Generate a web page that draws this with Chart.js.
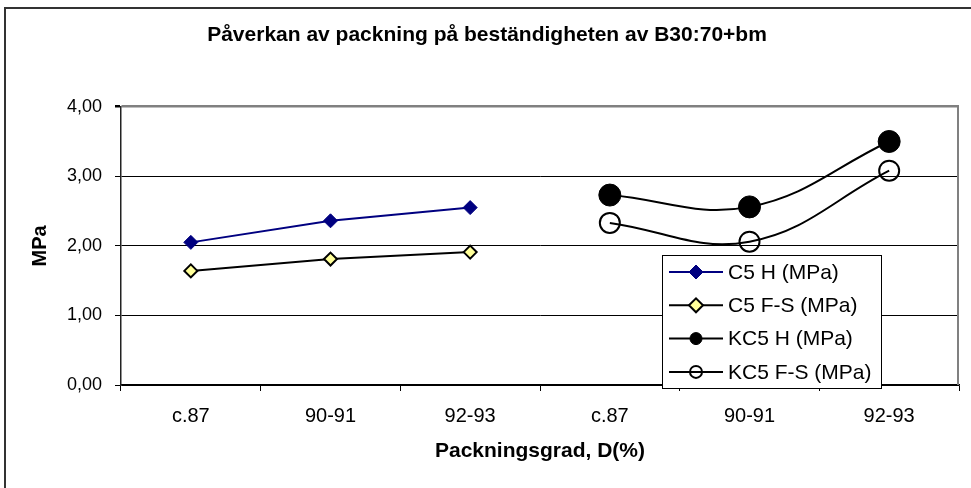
<!DOCTYPE html>
<html>
<head>
<meta charset="utf-8">
<script src="https://cdn.jsdelivr.net/npm/chart.js@4.4.1/dist/chart.umd.min.js"></script>
<style>
  html, body { margin: 0; padding: 0; background: #fff; }
  #wrap { width: 971px; height: 488px; position: relative; }
</style>
</head>
<body>
<div id="wrap"><canvas id="chart" width="971" height="488"></canvas></div>
<script>
// ─── Data ─────────────────────────────────────────────────────────
const categories = ['c.87', '90-91', '92-93', 'c.87', '90-91', '92-93'];
const c5H   = [2.05, 2.36, 2.55, null, null, null];
const c5FS  = [1.64, 1.81, 1.91, null, null, null];
const kc5H  = [null, null, null, 2.73, 2.56, 3.50];
const kc5FS = [null, null, null, 2.33, 2.06, 3.08];
const seriesNames = ['C5 H (MPa)', 'C5 F-S (MPa)', 'KC5 H (MPa)', 'KC5 F-S (MPa)'];
const yTicks = [0, 1, 2, 3, 4];

const FONT = "'Liberation Sans', Arial, sans-serif";
Chart.defaults.font.family = FONT;
Chart.defaults.color = '#000';

const fmt = v => v.toFixed(2).replace('.', ',');

// outer frame + right plot border
const framePlugin = {
  id: 'frame',
  beforeDraw(chart) {
    const c = chart.ctx;
    c.save();
    c.fillStyle = '#fff';
    c.fillRect(0, 0, chart.width, chart.height);
    c.strokeStyle = '#333';
    c.lineWidth = 2;
    c.strokeRect(5, 8, 1100, 1100);
    c.restore();
  },
  beforeDatasetsDraw(chart) {
    const a = chart.chartArea, c = chart.ctx;
    c.save();
    c.strokeStyle = '#808080';
    c.lineWidth = 2;
    c.beginPath();
    c.moveTo(a.right - 1, a.top);
    c.lineTo(a.right - 1, a.bottom);
    c.stroke();
    c.restore();
  }
};

// boxed legend inside the plot, Excel style
const legendBox = {
  id: 'legendBox',
  afterDraw(chart) {
    const c = chart.ctx;
    const x0 = 662, y0 = 255, w = 219, h = 133;
    c.save();
    c.fillStyle = '#fff';
    c.fillRect(x0, y0, w, h);
    c.strokeStyle = '#000';
    c.lineWidth = 1;
    c.strokeRect(x0 + 0.5, y0 + 0.5, w, h);
    chart.data.datasets.forEach((ds, i) => {
      const y = y0 + 17 + i * 33.3;
      c.strokeStyle = ds.borderColor;
      c.lineWidth = 2;
      c.beginPath();
      c.moveTo(x0 + 7, y);
      c.lineTo(x0 + 61, y);
      c.stroke();
      c.fillStyle = ds.pointBackgroundColor;
      c.strokeStyle = ds.pointBorderColor;
      c.lineWidth = ds.pointBorderWidth;
      Chart.helpers.drawPoint(c, {
        pointStyle: ds.pointStyle,
        radius: ds.pointStyle === 'circle' ? 6 : 7,
        borderWidth: ds.pointBorderWidth
      }, x0 + 34, y);
      c.fillStyle = '#000';
      c.font = '21px ' + FONT;
      c.textBaseline = 'middle';
      c.textAlign = 'left';
      c.fillText(ds.label, x0 + 66, y + 1);
    });
    c.restore();
  }
};

new Chart(document.getElementById('chart'), {
  type: 'line',
  data: {
    labels: categories,
    datasets: [
      {
        label: seriesNames[0], data: c5H,
        borderColor: '#000080', borderWidth: 2,
        pointStyle: 'rectRot', pointRadius: 7,
        pointBackgroundColor: '#000080', pointBorderColor: '#000080', pointBorderWidth: 1,
        tension: 0
      },
      {
        label: seriesNames[1], data: c5FS,
        borderColor: '#000', borderWidth: 2,
        pointStyle: 'rectRot', pointRadius: 6.5,
        pointBackgroundColor: '#FFFF99', pointBorderColor: '#000', pointBorderWidth: 2,
        tension: 0
      },
      {
        label: seriesNames[2], data: kc5H,
        borderColor: '#000', borderWidth: 2,
        pointStyle: 'circle', pointRadius: 11,
        pointBackgroundColor: '#000', pointBorderColor: '#000', pointBorderWidth: 1,
        tension: 0.4
      },
      {
        label: seriesNames[3], data: kc5FS,
        borderColor: '#000', borderWidth: 2,
        pointStyle: 'circle', pointRadius: 10,
        pointBackgroundColor: 'rgba(255,255,255,0)', pointBorderColor: '#000', pointBorderWidth: 2,
        tension: 0.4
      }
    ]
  },
  options: {
    responsive: false,
    animation: false,
    layout: { padding: { left: 0, right: -3, top: 0, bottom: 0 } },
    plugins: {
      legend: { display: false },
      tooltip: { enabled: false },
      title: {
        display: true,
        text: 'Påverkan av packning på beständigheten av B30:70+bm',
        font: { size: 21, weight: 'bold' },
        color: '#000',
        padding: { top: 23, bottom: 58.5 }
      }
    },
    scales: {
      x: {
        offset: true,
        grid: { offset: true, drawOnChartArea: false, tickLength: 6, color: '#000', tickColor: '#000' },
        border: { color: '#000', width: 1.5 },
        ticks: { font: { size: 20 }, color: '#000', padding: 13, maxRotation: 0 },
        title: {
          display: true, text: 'Packningsgrad, D(%)',
          font: { size: 21, weight: 'bold' }, color: '#000',
          padding: { top: 0, bottom: 24 }
        },
        afterFit: s => { s.height = 103; s.paddingLeft = 0; s.paddingRight = 0; }
      },
      y: {
        min: 0, max: 4,
        afterBuildTicks: s => { s.ticks = yTicks.map(v => ({ value: v })); },
        grid: {
          tickLength: 6,
          color: ctx => ctx.tick && ctx.tick.value === 4 ? '#808080' : '#000',
          lineWidth: ctx => ctx.tick && ctx.tick.value === 4 ? 2.5 : 1,
          tickColor: '#000'
        },
        border: { color: '#222', width: 1.5 },
        ticks: { font: { size: 18 }, color: '#000', padding: 13, callback: v => fmt(v) },
        title: {
          display: true, text: 'MPa',
          font: { size: 20, weight: 'bold' }, color: '#000',
          padding: { top: 28, bottom: 0 }
        },
        afterFit: s => { s.width = 121; s.paddingTop = 0; s.paddingBottom = 0; }
      }
    }
  },
  plugins: [framePlugin, legendBox]
});
</script>
</body>
</html>
